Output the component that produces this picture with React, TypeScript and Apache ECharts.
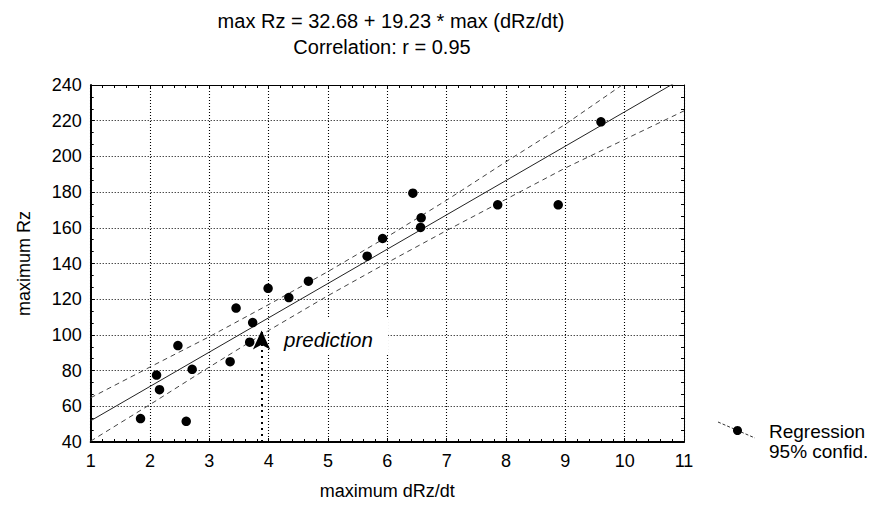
import React, { useEffect, useRef } from "react";
import * as echarts from "echarts";

// Observations: maximum dRz/dt (x) vs maximum Rz (y)
const dRzX = [1.84, 2.61, 2.11, 2.16, 2.47, 2.71, 3.35, 3.45, 3.68, 3.73, 3.99, 4.34, 4.67, 5.66, 5.92, 6.43, 6.57, 6.56, 7.86, 8.88, 9.6];
const rzY = [53.1, 51.6, 77.5, 69.3, 94, 80.7, 85, 115, 95.9, 106.9, 126.1, 120.9, 130.1, 144.1, 154, 179.4, 165.6, 160.2, 172.9, 172.9, 219.4];

// Regression line end points (max Rz = 32.68 + 19.23 * max dRz/dt)
const regX = [1, 11];
const regY = [51.9, 244.2];

// 95% confidence band
const bandX = [1, 2, 3, 4, 5, 6, 7, 8, 9, 10, 11];
const upperY = [64.8, 82, 99, 117, 135.5, 155, 175.5, 197, 218, 241, 264];
const lowerY = [40.5, 61, 82, 102.5, 122, 140.5, 158.5, 176, 193.5, 209.5, 225.5];

// Prediction marker
const predX = [3.88, 3.88];
const predY = [40, 102.5];

const xTicks = { min: 1, max: 11, interval: 1 };
const yTicks = { min: 40, max: 240, interval: 20 };

const titleLines = ["max Rz = 32.68 + 19.23 * max (dRz/dt)", "Correlation: r = 0.95"];
const legendLines = ["Regression", "95% confid."];

const FONT = "'Liberation Sans', Arial, Helvetica, sans-serif";

export default function App() {
  const ref = useRef<HTMLDivElement>(null);
  useEffect(() => {
    if (!ref.current) return;
    const chart = echarts.init(ref.current, undefined, { renderer: "svg" });
    const zip = (xs: number[], ys: number[]) => xs.map((x, i) => [x, ys[i]]);
    const gridLine = { show: true, lineStyle: { color: "#000", type: [1, 2], width: 1.1 } };
    const frameAxisX = (pos: "top" | "bottom", main: boolean) => ({
      type: "value",
      position: pos,
      min: xTicks.min,
      max: xTicks.max,
      interval: xTicks.interval,
      name: main ? "maximum dRz/dt" : "",
      nameLocation: "middle",
      nameGap: 40,
      nameTextStyle: { fontFamily: FONT, fontSize: 18, color: "#000" },
      axisLine: { show: true, onZero: false, lineStyle: { color: "#000", width: main ? 2 : 1 } },
      axisTick: { show: true, inside: true, length: 4, lineStyle: { color: "#000" } },
      minorTick: { show: true, splitNumber: 5, length: 3, lineStyle: { color: "#000" } },
      axisLabel: { show: main, fontFamily: FONT, fontSize: 18, color: "#000", margin: 10 },
      splitLine: main ? gridLine : { show: false },
    });
    const frameAxisY = (pos: "left" | "right", main: boolean) => ({
      type: "value",
      position: pos,
      min: yTicks.min,
      max: yTicks.max,
      interval: yTicks.interval,
      name: main ? "maximum Rz" : "",
      nameLocation: "middle",
      nameGap: 58,
      nameTextStyle: { fontFamily: FONT, fontSize: 18, color: "#000" },
      axisLine: { show: true, onZero: false, lineStyle: { color: "#000", width: main ? 2 : 1 } },
      axisTick: { show: true, inside: true, length: 4, lineStyle: { color: "#000" } },
      minorTick: { show: true, splitNumber: 3, length: 3, lineStyle: { color: "#000" } },
      axisLabel: { show: main, fontFamily: FONT, fontSize: 18, color: "#000", margin: 9 },
      splitLine: main ? gridLine : { show: false },
    });

    chart.setOption({
      animation: false,
      backgroundColor: "#fff",
      title: [
        {
          text: titleLines[0],
          left: 386,
          top: 6,
          textAlign: "center",
          textStyle: { fontFamily: FONT, fontSize: 20, fontWeight: "normal", color: "#000" },
        },
        {
          text: titleLines[1],
          left: 377,
          top: 32,
          textAlign: "center",
          textStyle: { fontFamily: FONT, fontSize: 20, fontWeight: "normal", color: "#000" },
        },
      ],
      grid: { left: 90.7, top: 85, width: 593.3, height: 357, containLabel: false },
      xAxis: [frameAxisX("bottom", true), frameAxisX("top", false)],
      yAxis: [frameAxisY("left", true), frameAxisY("right", false)],
      series: [
        {
          type: "line",
          data: zip(bandX, upperY),
          showSymbol: false,
          clip: true,
          lineStyle: { color: "#444", width: 1, type: [5, 4] },
          z: 3,
        },
        {
          type: "line",
          data: zip(bandX, lowerY),
          showSymbol: false,
          clip: true,
          lineStyle: { color: "#444", width: 1, type: [5, 4] },
          z: 3,
        },
        {
          type: "line",
          data: zip(regX, regY),
          showSymbol: false,
          clip: true,
          lineStyle: { color: "#222", width: 1, type: "solid" },
          z: 3,
          markLine: {
            silent: true,
            symbol: ["none", "arrow"],
            symbolSize: [13, 19],
            label: { show: false },
            lineStyle: { color: "#000", width: 2, type: [2, 4] },
            data: [[{ coord: [predX[0], predY[0]] }, { coord: [predX[1], predY[1]] }]],
            z: 5,
          },
        },
        {
          type: "scatter",
          data: zip(dRzX, rzY),
          symbol: "circle",
          symbolSize: 9.5,
          itemStyle: { color: "#000", opacity: 1 },
          z: 4,
        },
      ],
      graphic: [
        {
          type: "rect",
          shape: { x: 270, y: 319, width: 118, height: 35 },
          style: { fill: "#fff" },
          z: 1,
        },
        {
          type: "text",
          x: 284,
          y: 339,
          z: 2,
          style: {
            text: "prediction",
            fontFamily: FONT,
            fontSize: 20.5,
            fontStyle: "italic",
            fill: "#000",
            verticalAlign: "middle",
          },
        },
        {
          type: "line",
          shape: { x1: 718, y1: 422, x2: 755, y2: 438 },
          style: { stroke: "#333", lineWidth: 1, lineDash: [3, 2] },
        },
        {
          type: "circle",
          shape: { cx: 737.5, cy: 430.5, r: 4.5 },
          style: { fill: "#000" },
        },
        {
          type: "text",
          x: 769,
          y: 431,
          style: { text: legendLines[0], fontFamily: FONT, fontSize: 19, fill: "#000", verticalAlign: "middle" },
        },
        {
          type: "text",
          x: 769,
          y: 451,
          style: { text: legendLines[1], fontFamily: FONT, fontSize: 19, fill: "#000", verticalAlign: "middle" },
        },
      ],
    });
    return () => chart.dispose();
  }, []);
  return <div ref={ref} style={{ position: "fixed", left: 0, top: 0, width: 880, height: 510 }} />;
}
